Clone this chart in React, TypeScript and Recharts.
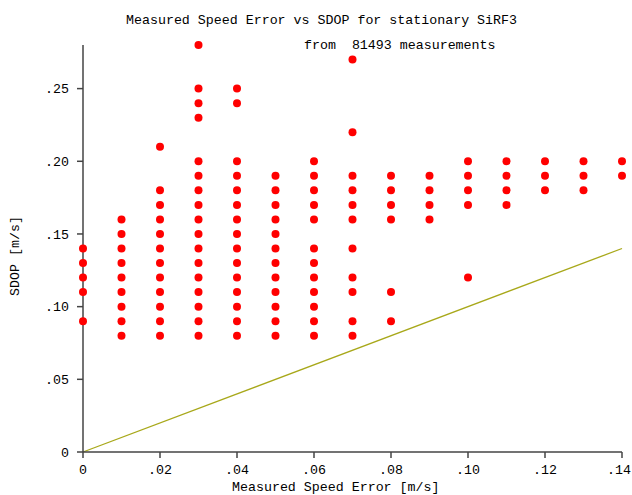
import React from 'react';
import { ScatterChart, Scatter, XAxis, YAxis, ReferenceLine } from 'recharts';

// Measured speed error columns (m/s)
const errorValues = [0, 0.01, 0.02, 0.03, 0.04, 0.05, 0.06, 0.07, 0.08, 0.09, 0.1, 0.11, 0.12, 0.13, 0.14];

// SDOP values observed for each error column (m/s)
const sdopColumns: number[][] = [
  [0.09, 0.11, 0.12, 0.13, 0.14],
  [0.08, 0.09, 0.1, 0.11, 0.12, 0.13, 0.14, 0.15, 0.16],
  [0.08, 0.09, 0.1, 0.11, 0.12, 0.13, 0.14, 0.15, 0.16, 0.17, 0.18, 0.21],
  [0.08, 0.09, 0.1, 0.11, 0.12, 0.13, 0.14, 0.15, 0.16, 0.17, 0.18, 0.19, 0.2, 0.23, 0.24, 0.25, 0.28],
  [0.08, 0.09, 0.1, 0.11, 0.12, 0.13, 0.14, 0.15, 0.16, 0.17, 0.18, 0.19, 0.2, 0.24, 0.25],
  [0.08, 0.09, 0.1, 0.11, 0.12, 0.13, 0.14, 0.15, 0.16, 0.17, 0.18, 0.19],
  [0.08, 0.09, 0.1, 0.11, 0.12, 0.13, 0.14, 0.16, 0.17, 0.18, 0.19, 0.2],
  [0.08, 0.09, 0.11, 0.12, 0.14, 0.16, 0.17, 0.18, 0.19, 0.22, 0.27],
  [0.09, 0.11, 0.16, 0.17, 0.18, 0.19],
  [0.16, 0.17, 0.18, 0.19],
  [0.12, 0.17, 0.18, 0.19, 0.2],
  [0.17, 0.18, 0.19, 0.2],
  [0.18, 0.19, 0.2],
  [0.18, 0.19, 0.2],
  [0.19, 0.2],
];

const xTicks = [0, 0.02, 0.04, 0.06, 0.08, 0.1, 0.12, 0.14];
const yTicks = [0, 0.05, 0.1, 0.15, 0.2, 0.25];
const diagonal = [{ x: 0, y: 0 }, { x: 0.14, y: 0.14 }];

const titleText = 'Measured Speed Error vs SDOP for stationary SiRF3';
const subtitleText = 'from  81493 measurements';
const xLabel = 'Measured Speed Error [m/s]';
const yLabel = 'SDOP [m/s]';

const points = errorValues.flatMap((x, i) => sdopColumns[i].map((y) => ({ x, y })));

const FONT = '"Liberation Mono", "DejaVu Sans Mono", monospace';
const FS = 13.3;
const CHART_W = 632;

const fmt = (v: number) => (v === 0 ? '0' : v.toFixed(2).replace(/^0/, ''));

const Dot = (props: any) => <circle cx={props.cx} cy={props.cy} r={4} fill="#ff0000" />;

const XTick = (props: any) => {
  const label = fmt(props.payload.value);
  const half = (label.length * FS * 0.6) / 2;
  const x = Math.min(props.x, CHART_W - half - 1);
  return (
    <text x={x} y={props.y} dy="0.71em" textAnchor="middle" fill="#000" fontFamily={FONT} fontSize={FS}>
      {label}
    </text>
  );
};

const textStyle: React.CSSProperties = {
  position: 'absolute',
  fontFamily: FONT,
  fontSize: FS,
  lineHeight: '16px',
  whiteSpace: 'pre',
  color: '#000',
};

export default function App() {
  return (
    <div style={{ position: 'absolute', left: 0, top: 0, width: 632, height: 495, background: '#fff' }}>
      <ScatterChart width={CHART_W} height={495} margin={{ top: 45, right: 10, bottom: 0, left: 0 }}>
        <XAxis
          type="number"
          dataKey="x"
          domain={[0, 0.14]}
          ticks={xTicks}
          height={43}
          tickSize={6}
          tickMargin={7}
          stroke="#444"
          strokeWidth={1.5}
          tick={XTick}
          interval={0}
        />
        <YAxis
          type="number"
          dataKey="y"
          domain={[0, 0.28]}
          ticks={yTicks}
          tickFormatter={fmt}
          width={83}
          tickSize={6}
          tickMargin={8}
          stroke="#444"
          strokeWidth={1.5}
          tick={{ fill: '#000', fontFamily: FONT, fontSize: FS }}
          interval={0}
        />
        <ReferenceLine segment={diagonal} stroke="#a8a81a" strokeWidth={1.3} />
        <Scatter data={points} shape={Dot} isAnimationActive={false} />
      </ScatterChart>
      <div style={{ ...textStyle, left: 126, top: 13 }}>{titleText}</div>
      <div style={{ ...textStyle, left: 304, top: 38 }}>{subtitleText}</div>
      <div style={{ ...textStyle, left: 232, top: 480 }}>{xLabel}</div>
      <div
        style={{
          ...textStyle,
          left: 16,
          top: 256,
          transform: 'translate(-50%, -50%) rotate(-90deg)',
        }}
      >
        {yLabel}
      </div>
    </div>
  );
}
